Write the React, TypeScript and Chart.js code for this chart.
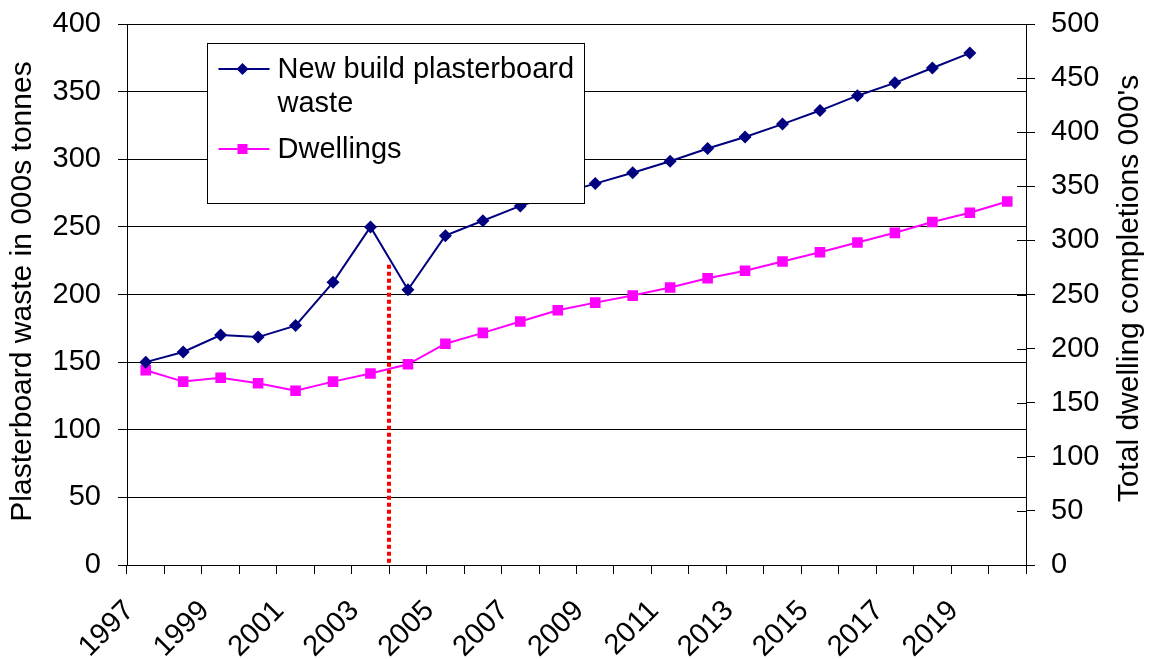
import React, { useEffect, useRef } from "react";
import { Chart, registerables } from "chart.js";

Chart.register(...registerables);

const years: string[] = [
  "1997", "1998", "1999", "2000", "2001", "2002", "2003", "2004",
  "2005", "2006", "2007", "2008", "2009", "2010", "2011", "2012",
  "2013", "2014", "2015", "2016", "2017", "2018", "2019", "2020",
];

const wasteValues: (number | null)[] = [
  150, 157.5, 170, 168.5, 177, 209, 250, 203.5, 243.5, 254.5, 265.5, 274,
  282, 290, 298.5, 308, 316.5, 326, 336, 347, 356.5, 367.5, 378.5, null,
];

const dwellingValues: number[] = [
  180, 169.5, 173, 168, 161, 169.5, 177, 185.5, 204.5, 214.5, 225, 235.5,
  242.5, 249, 256.5, 265, 272, 280.5, 289, 298, 307, 317, 325.5, 336,
];

const leftTitle = "Plasterboard waste in 000s tonnes";
const rightTitle = "Total dwelling completions 000's";
const wasteLabel = "New build plasterboard waste";
const wasteLabelLines = ["New build plasterboard", "waste"];
const dwellingLabel = "Dwellings";

// vertical dotted marker, between these two years, from this left-axis value to 0
const markerAfterYear = "2003";
const markerTop = 222;

const FONT = '"Liberation Sans", Arial, Helvetica, sans-serif';
const FS = 29;
const TITLE_FS = 30;
const NAVY = "#000080";
const MAGENTA = "#ff00ff";

export default function App() {
  const ref = useRef<HTMLCanvasElement | null>(null);

  useEffect(() => {
    if (!ref.current) return;

    const overlay = {
      id: "overlay",
      afterDatasetsDraw(chart: any) {
        const ctx = chart.ctx as CanvasRenderingContext2D;
        const xs = chart.scales.x;
        const ys = chart.scales.y;
        // red dotted marker
        const i = years.indexOf(markerAfterYear);
        const px = Math.round((xs.getPixelForValue(i) + xs.getPixelForValue(i + 1)) / 2);
        ctx.save();
        ctx.strokeStyle = "#ff0000";
        ctx.lineWidth = 4;
        ctx.setLineDash([4, 3]);
        ctx.lineCap = "butt";
        ctx.beginPath();
        ctx.moveTo(px, ys.getPixelForValue(markerTop));
        ctx.lineTo(px, ys.getPixelForValue(0));
        ctx.stroke();
        ctx.restore();

        // legend box
        const ca = chart.chartArea;
        const bx = Math.round(ca.left + 80) + 0.5;
        const by = Math.round(ca.top + 19) + 0.5;
        const bw = 377;
        const bh = 160;
        ctx.save();
        ctx.fillStyle = "#ffffff";
        ctx.fillRect(bx, by, bw, bh);
        ctx.strokeStyle = "#000000";
        ctx.lineWidth = 1;
        ctx.strokeRect(bx, by, bw, bh);

        const drawSample = (yy: number, color: string, style: "rectRot" | "rect", r: number) => {
          ctx.strokeStyle = color;
          ctx.lineWidth = 2;
          ctx.beginPath();
          ctx.moveTo(bx + 11, yy);
          ctx.lineTo(bx + 62, yy);
          ctx.stroke();
          ctx.fillStyle = color;
          const cx = bx + 35;
          ctx.beginPath();
          if (style === "rectRot") {
            ctx.moveTo(cx, yy - r);
            ctx.lineTo(cx + r, yy);
            ctx.lineTo(cx, yy + r);
            ctx.lineTo(cx - r, yy);
            ctx.closePath();
          } else {
            ctx.rect(cx - r, yy - r, 2 * r, 2 * r);
          }
          ctx.fill();
        };
        drawSample(by + 25.5, NAVY, "rectRot", 6);
        drawSample(by + 105.5, MAGENTA, "rect", 5);

        ctx.fillStyle = "#000";
        ctx.font = `${FS}px ${FONT}`;
        ctx.textAlign = "left";
        ctx.textBaseline = "alphabetic";
        ctx.fillText(wasteLabelLines[0], bx + 70, by + 34.5);
        ctx.fillText(wasteLabelLines[1], bx + 70, by + 68.5);
        ctx.fillText(dwellingLabel, bx + 70, by + 114.5);
        ctx.restore();
      },
      afterDraw(chart: any) {
        const ctx = chart.ctx as CanvasRenderingContext2D;
        const ca = chart.chartArea;
        const y2 = chart.scales.y2;
        ctx.save();
        // inner tick marks on the right axis
        ctx.strokeStyle = "#000";
        ctx.lineWidth = 1;
        for (const t of y2.ticks) {
          const py = Math.round(y2.getPixelForValue(t.value)) + 0.5;
          ctx.beginPath();
          ctx.moveTo(ca.right - 9, py);
          ctx.lineTo(ca.right, py);
          ctx.stroke();
        }
        // axis titles
        ctx.fillStyle = "#000";
        ctx.font = `${TITLE_FS}px ${FONT}`;
        ctx.textAlign = "center";
        ctx.textBaseline = "middle";
        const cy = (ca.top + ca.bottom) / 2;
        ctx.translate(23, cy - 3);
        ctx.rotate(-Math.PI / 2);
        ctx.fillText(leftTitle, 0, 0);
        ctx.setTransform(1, 0, 0, 1, 0, 0);
        ctx.translate(1130, cy - 6);
        ctx.rotate(-Math.PI / 2);
        ctx.fillText(rightTitle, 0, 0);
        ctx.restore();
      },
    };

    const noVPad = (s: any) => {
      s.paddingTop = 0;
      s.paddingBottom = 0;
    };

    const chart = new Chart(ref.current, {
      type: "line",
      data: {
        labels: years,
        datasets: [
          {
            label: wasteLabel,
            data: wasteValues,
            yAxisID: "y",
            borderColor: NAVY,
            backgroundColor: NAVY,
            borderWidth: 2,
            pointStyle: "rectRot",
            pointRadius: 6.5,
            pointBorderWidth: 0,
            pointBackgroundColor: NAVY,
          },
          {
            label: dwellingLabel,
            data: dwellingValues,
            yAxisID: "y2",
            borderColor: MAGENTA,
            backgroundColor: MAGENTA,
            borderWidth: 2,
            pointStyle: "rect",
            pointRadius: 7.5,
            pointBorderWidth: 0,
            pointBackgroundColor: MAGENTA,
          },
        ],
      },
      options: {
        animation: false,
        responsive: false,
        maintainAspectRatio: false,
        layout: { padding: { top: 24, left: 0, right: 0, bottom: 0 } },
        plugins: {
          legend: { display: false },
          tooltip: { enabled: false },
        },
        scales: {
          x: {
            type: "category",
            offset: true,
            grid: {
              offset: true,
              drawOnChartArea: false,
              drawTicks: true,
              tickLength: 9,
              color: "#000",
            },
            border: { display: true, color: "#000" },
            ticks: {
              autoSkip: false,
              maxRotation: 45,
              minRotation: 45,
              labelOffset: -16,
              padding: 20,
              color: "#000",
              font: { family: FONT, size: FS },
              callback: (_v: any, i: number) => (i % 2 === 0 ? years[i] : ""),
            },
            afterFit: (s: any) => {
              s.height = 94;
            },
          },
          y: {
            position: "left",
            min: 0,
            max: 400,
            grid: { color: "#000", tickLength: 9 },
            border: { display: true, color: "#000" },
            ticks: {
              stepSize: 50,
              padding: 17,
              color: "#000",
              font: { family: FONT, size: FS },
            },
            afterFit: (s: any) => {
              s.width = 127;
              noVPad(s);
            },
          },
          y2: {
            position: "right",
            min: 0,
            max: 500,
            grid: { drawOnChartArea: false, color: "#000", tickLength: 9 },
            border: { display: true, color: "#000" },
            ticks: {
              stepSize: 50,
              padding: 16,
              color: "#000",
              font: { family: FONT, size: FS },
            },
            afterFit: (s: any) => {
              s.width = 124;
              noVPad(s);
            },
          },
        },
      },
      plugins: [overlay],
    } as any);

    return () => chart.destroy();
  }, []);

  return (
    <div style={{ position: "absolute", left: 0, top: 0, width: 1150, height: 659, background: "#fff" }}>
      <canvas ref={ref} width={1150} height={659} style={{ display: "block" }} />
    </div>
  );
}
